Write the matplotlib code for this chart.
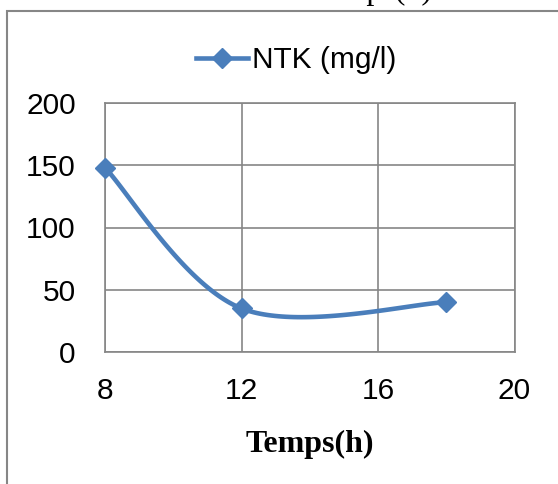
import numpy as np
import matplotlib
matplotlib.use("Agg")
import matplotlib.pyplot as plt
from matplotlib.patches import Rectangle

# Data
temps = [8, 12, 18]
ntk = [148, 35, 40]
series_label = "NTK (mg/l)"
x_ticks = [8, 12, 16, 20]
y_ticks = [0, 50, 100, 150, 200]
x_label = "Temps(h)"

W, H = 558, 484
fig = plt.figure(figsize=(W / 100, H / 100), dpi=100)

def fx(px):
    return px / W

def fy(py):
    return 1 - py / H

# outer chart border (extends past right/bottom edges)
fig.patches.append(Rectangle((fx(6.5), fy(600)), fx(700), fy(11.5) - fy(600),
                             transform=fig.transFigure, fill=False,
                             edgecolor="#868686", linewidth=1.5))
# cropped caption text at the very top
fig.text(fx(432), fy(-1), "Temps(h)", ha="right", va="baseline",
         family="Liberation Serif", fontsize=23, color="black")

ax = fig.add_axes([fx(105), fy(352), fx(514.5) - fx(105), fy(103) - fy(352)])

# Excel-like smoothed line (cardinal Bezier)
def smooth(xs, ys, n=60):
    P = np.column_stack([xs, ys]).astype(float)
    ext = np.vstack([P[0], P, P[-1]])
    out = []
    for i in range(len(P) - 1):
        p0, p1, p2, p3 = ext[i], ext[i + 1], ext[i + 2], ext[i + 3]
        c1 = p1 + (p2 - p0) / 6
        c2 = p2 - (p3 - p1) / 6
        t = np.linspace(0, 1, n)[:, None]
        seg = ((1 - t) ** 3) * p1 + 3 * ((1 - t) ** 2) * t * c1 + 3 * (1 - t) * t ** 2 * c2 + t ** 3 * p2
        out.append(seg if i == 0 else seg[1:])
    s = np.vstack(out)
    return s[:, 0], s[:, 1]

sx, sy = smooth(temps, ntk)
color = "#4A7EBB"
ax.plot(sx, sy, color=color, linewidth=3.3, solid_capstyle="round", zorder=3,
        clip_on=False)
ax.plot(temps, ntk, linestyle="none", marker="D", markersize=10.5,
        color=color, zorder=4, clip_on=False)

# legend proxy
ax.plot([], [], color=color, linewidth=3.3, marker="D", markersize=10.5,
        label=series_label)
leg = fig.legend(loc="center", bbox_to_anchor=(fx(296), fy(60)), frameon=False,
                 prop={"family": "Liberation Sans", "size": 21.5},
                 handlelength=1.75, handletextpad=0.13, borderpad=0, borderaxespad=0)

ax.set_xlim(8, 20)
ax.set_ylim(0, 200)
ax.set_xticks(x_ticks)
ax.set_yticks(y_ticks)
ax.grid(True, color="#868686", linewidth=1.2)
ax.set_axisbelow(True)
for sp in ax.spines.values():
    sp.set_color("#868686")
    sp.set_linewidth(1.2)
ax.tick_params(length=0, labelsize=21.5)
ax.tick_params(axis="y", pad=21)
ax.tick_params(axis="x", pad=18)
for lbl in ax.get_xticklabels() + ax.get_yticklabels():
    lbl.set_family("Liberation Sans")

ax.set_xlabel(x_label, family="Liberation Serif", fontweight="bold",
              fontsize=23, labelpad=18)

fig.savefig("out.png", dpi=100)
